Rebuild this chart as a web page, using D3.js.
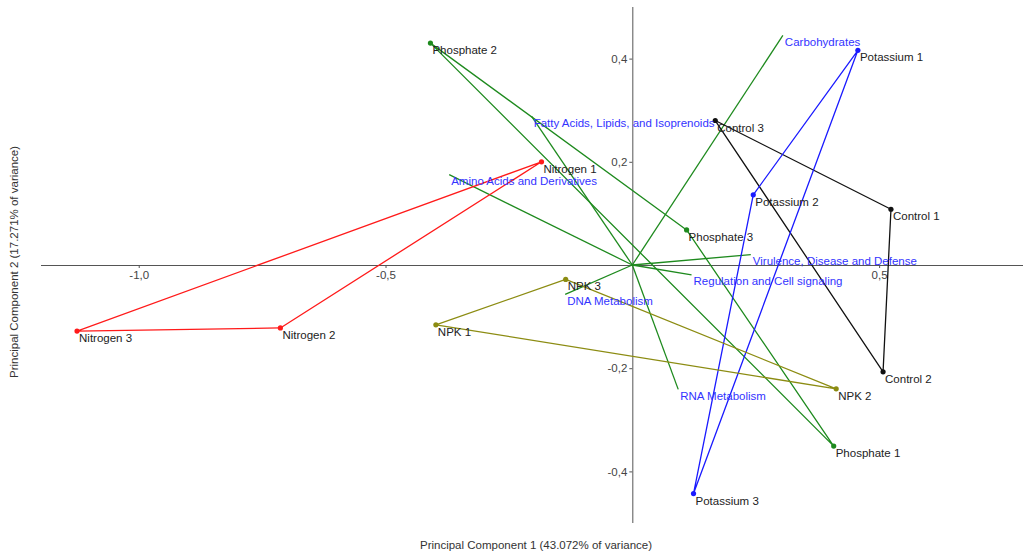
<!DOCTYPE html>
<html>
<head>
<meta charset="utf-8">
<script src="https://cdn.jsdelivr.net/npm/d3@7"></script>
<style>
  html, body { margin: 0; padding: 0; background: #fff; }
  svg { display: block; font-family: "Liberation Sans", Arial, sans-serif; }
</style>
</head>
<body>
<svg id="chart" width="1023" height="555"></svg>
<script>
// Sample scores on the first two principal components
const sampleNames = ["Nitrogen 1", "Nitrogen 2", "Nitrogen 3",
                     "Phosphate 1", "Phosphate 2", "Phosphate 3",
                     "Control 1", "Control 2", "Control 3",
                     "Potassium 1", "Potassium 2", "Potassium 3",
                     "NPK 1", "NPK 2", "NPK 3"];
const sampleGroups = ["Nitrogen", "Nitrogen", "Nitrogen",
                      "Phosphate", "Phosphate", "Phosphate",
                      "Control", "Control", "Control",
                      "Potassium", "Potassium", "Potassium",
                      "NPK", "NPK", "NPK"];
const samplePC1 = [-0.184, -0.713, -1.125,
                    0.408, -0.409,  0.110,
                    0.524,  0.508,  0.168,
                    0.457,  0.245,  0.124,
                   -0.398,  0.413, -0.135];
const samplePC2 = [ 0.200, -0.122, -0.128,
                   -0.351,  0.430,  0.068,
                    0.108, -0.207,  0.280,
                    0.416,  0.136, -0.443,
                   -0.116, -0.240, -0.028];

// Functional category loadings
const vectorNames = ["Carbohydrates", "Fatty Acids, Lipids, and Isoprenoids",
                     "Amino Acids and Derivatives", "Virulence, Disease and Defense",
                     "Regulation and Cell signaling", "DNA Metabolism", "RNA Metabolism"];
const vectorPC1 = [0.305, -0.204, -0.371, 0.240, 0.120, -0.136, 0.093];
const vectorPC2 = [0.445,  0.288,  0.175, 0.020, -0.019, -0.057, -0.241];

// Axis ticks
const xTicks = [-1.0, -0.5, 0.5];
const yTicks = [-0.4, -0.2, 0.2, 0.4];

const groupOrder = ["Nitrogen", "Phosphate", "Control", "Potassium", "NPK"];
const groupColors = ["#ff1a1a", "#1e8a1e", "#111111", "#1a1aff", "#8c8c12"];

const xTitle = "Principal Component 1 (43.072% of variance)";
const yTitle = "Principal Component 2 (17.271% of variance)";

const svg = d3.select("#chart");
const W = 1023, H = 555;

const x = d3.scaleLinear().domain([-1.2, 0.8]).range([40, 1027.2]);
const y = d3.scaleLinear().domain([-0.5, 0.5]).range([523, 7]);
const color = d3.scaleOrdinal().domain(groupOrder).range(groupColors);

// Decimal comma and a plain hyphen for negatives
const fmt = v => d3.format(".1f")(v).replace("\u2212", "-").replace(".", ",");

// Axes through the origin
const xAxis = svg.append("g")
  .attr("transform", `translate(0,${y(0)})`)
  .call(d3.axisBottom(x).tickValues(xTicks).tickSize(3).tickSizeOuter(0).tickPadding(3).tickFormat(fmt));
xAxis.select(".domain").attr("d", `M41,0.5H${W}`);

const yAxis = svg.append("g")
  .attr("transform", `translate(${x(0)},0)`)
  .call(d3.axisLeft(y).tickValues(yTicks).tickSize(3).tickSizeOuter(0).tickPadding(2).tickFormat(fmt));
yAxis.select(".domain").attr("d", `M0.5,${y(0.5)}V${y(-0.5)}`);

svg.selectAll(".domain, .tick line").attr("stroke", "#555").attr("stroke-width", 1);
svg.selectAll(".tick text").attr("fill", "#444").style("font-size", "11.5px")
  .style("font-family", "'Liberation Sans', Arial, sans-serif");

// Axis titles
svg.append("text")
  .attr("x", 536).attr("y", 549)
  .attr("text-anchor", "middle")
  .attr("fill", "#333").style("font-size", "11.5px")
  .text(xTitle);
svg.append("text")
  .attr("transform", `translate(18,262) rotate(-90)`)
  .attr("text-anchor", "middle")
  .attr("fill", "#333").style("font-size", "11.5px")
  .text(yTitle);

// Loading vectors from the origin
const vectors = vectorNames.map((n, i) => ({ name: n, pc1: vectorPC1[i], pc2: vectorPC2[i] }));
svg.append("g").selectAll("line").data(vectors).join("line")
  .attr("x1", x(0)).attr("y1", y(0))
  .attr("x2", d => x(d.pc1)).attr("y2", d => y(d.pc2))
  .attr("stroke", "#1e8a1e").attr("stroke-width", 1.3);

// Sample triangles per treatment
const samples = sampleNames.map((n, i) => ({ name: n, group: sampleGroups[i], pc1: samplePC1[i], pc2: samplePC2[i] }));
const byGroup = d3.group(samples, d => d.group);
const line = d3.line().x(d => x(d.pc1)).y(d => y(d.pc2));
svg.append("g").selectAll("path").data(groupOrder).join("path")
  .attr("d", g => line(byGroup.get(g)) + "Z")
  .attr("fill", "none")
  .attr("stroke", g => color(g))
  .attr("stroke-width", 1.3)
  .attr("stroke-linejoin", "round");

svg.append("g").selectAll("circle").data(samples).join("circle")
  .attr("cx", d => x(d.pc1)).attr("cy", d => y(d.pc2))
  .attr("r", 2.6)
  .attr("fill", d => color(d.group));

// Labels
svg.append("g").selectAll("text").data(vectors).join("text")
  .attr("x", d => x(d.pc1) + 2).attr("y", d => y(d.pc2) + 10.5)
  .attr("fill", "#3333ff").style("font-size", "11.5px")
  .text(d => d.name);

svg.append("g").selectAll("text").data(samples).join("text")
  .attr("x", d => x(d.pc1) + 2).attr("y", d => y(d.pc2) + 11)
  .attr("fill", "#222").style("font-size", "11.5px")
  .text(d => d.name);
</script>
</body>
</html>
